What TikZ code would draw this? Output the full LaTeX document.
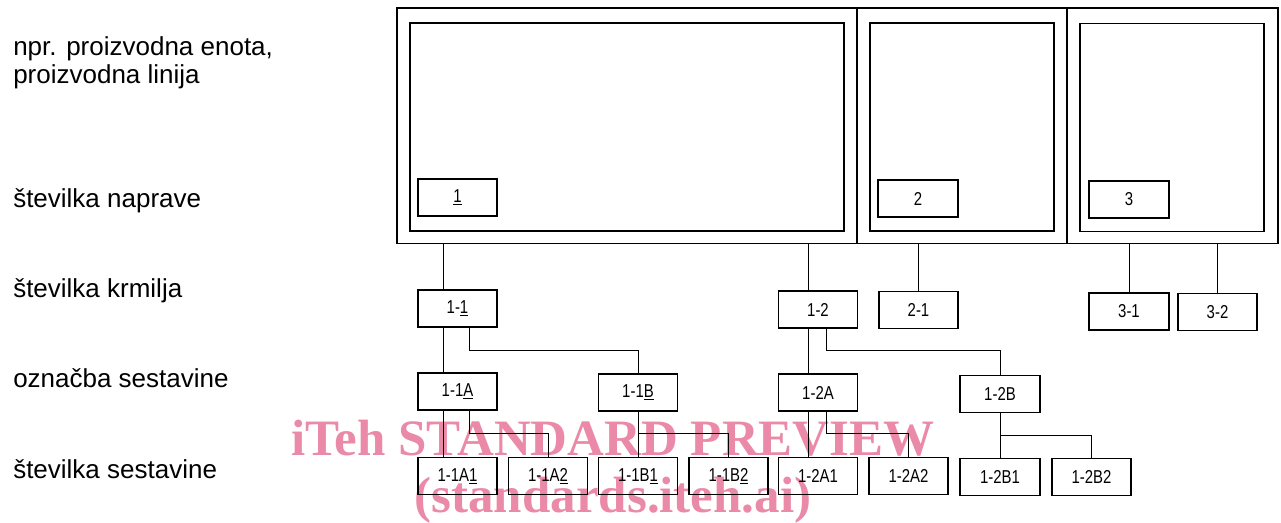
\documentclass[tikz,border=0pt]{standalone}
\usepackage{fontspec}
\setmainfont{Liberation Sans}
\newfontfamily\wmfont{Liberation Serif}
\newfontfamily\boxfont{Liberation Sans}[FakeStretch=0.8]
\usetikzlibrary{calc}
\definecolor{wmpink}{RGB}{234,138,168}
\begin{document}
\begin{tikzpicture}[x=0.75pt,y=-0.75pt,
  frame/.style={draw,line width=0.95pt,inner sep=0pt,minimum height=176.6pt},
  inner/.style={draw,line width=0.8pt,inner sep=0pt,minimum height=156pt},
  box/.style={draw,line width=0.8pt,inner sep=0pt,minimum width=59.25pt,minimum height=27.75pt,font=\boxfont\fontsize{14}{16}\selectfont},
  lab/.style={anchor=base west,inner sep=0pt,font=\fontsize{19.5}{21}\selectfont},
  wm/.style={anchor=base,inner sep=0pt,text=wmpink,font=\wmfont\bfseries\fontsize{38.25}{40}\selectfont},
  conn/.style={line width=0.7pt}]
\useasboundingbox (0,0) rectangle (1281,522);
% watermark (beneath)
\node[wm] (wm1) at (613,455) {iTeh STANDARD PREVIEW};
\node[wm] (wm2) at (613,512) {(standards.iteh.ai)};
% left labels
\node[lab] (l1) at (13,55) {npr. proizvodna enota,};
\node[lab] (l2) at (13,83) {proizvodna linija};
\node[lab] (l3) at (13,207) {številka naprave};
\node[lab] (l4) at (13,297) {številka krmilja};
\node[lab] (l5) at (13,387) {označba sestavine};
\node[lab] (l6) at (13,478) {številka sestavine};
% frames
\node[frame,minimum width=345pt] (f1) at (627,125.75) {};
\node[frame,minimum width=157.5pt] (f2) at (962,125.75) {};
\node[frame,minimum width=158.25pt] (f3) at (1172.5,125.75) {};
\node[inner,minimum width=325.5pt] (i1) at (627,127) {};
\node[inner,minimum width=138pt] (i2) at (962,127) {};
\node[inner,minimum width=138pt] (i3) at (1172,127.5) {};
% devices
\node[box] (d1) at (457.5,197.5) {\underline{1}};
\node[box,minimum width=60pt] (d2) at (918,198.5) {2};
\node[box,minimum width=60pt] (d3) at (1129,199.5) {3};
% controllers
\node[box] (c11) at (457.5,308.5) {1-\underline{1}};
\node[box] (c12) at (818,309.5) {1-2};
\node[box] (c21) at (918.5,310) {2-1};
\node[box,minimum width=60pt] (c31) at (1129,311.5) {3-1};
\node[box] (c32) at (1217.5,312) {3-2};
% components
\node[box] (s11A) at (457.5,391.5) {1-1\underline{A}};
\node[box] (s11B) at (638,392.5) {1-1\underline{B}};
\node[box] (s12A) at (818,392.5) {1-2A};
\node[box,minimum width=60pt] (s12B) at (1000,394) {1-2B};
% component numbers
\node[box] (a1) at (457.5,476) {1-1A\underline{1}};
\node[box] (a2) at (548,476) {1-1A\underline{2}};
\node[box] (b1) at (638,476) {1-1B\underline{1}};
\node[box] (b2) at (728.5,476) {1-1B\underline{2}};
\node[box] (e1) at (818,476) {1-2A1};
\node[box] (e2) at (908.5,476) {1-2A2};
\node[box,minimum width=60pt] (g1) at (1000,477) {1-2B1};
\node[box] (g2) at (1091.5,477) {1-2B2};
% helper coordinates
\coordinate (p11) at ([xshift=19.5pt]c11.south west);
\coordinate (q11) at ([xshift=39pt]c11.south west);
\coordinate (p12) at ([xshift=22.5pt]c12.south west);
\coordinate (q12) at ([xshift=36pt]c12.south west);
\coordinate (m3) at ($(c11.south)!0.5!(s11A.north)$);
\coordinate (m4) at ($(s11A.south)!0.5!(a1.north)$);
\coordinate (m4b) at ($(s12B.south)!0.5!(g1.north)$);
% frame to controllers
\draw[conn] (p11 |- c11.north) -- (p11 |- f1.south);
\draw[conn] (p12 |- c12.north) -- (p12 |- f1.south);
\draw[conn] (c21.north) -- (c21.north |- f2.south);
\draw[conn] (c31.north) -- (c31.north |- f3.south);
\draw[conn] (c32.north) -- (c32.north |- f3.south);
% controllers to components
\draw[conn] (p11) -- (p11 |- s11A.north);
\draw[conn] (q11) -- (q11 |- m3) -| (s11B.north);
\draw[conn] (p12) -- (p12 |- s12A.north);
\draw[conn] (q12) -- (q12 |- m3) -| (s12B.north);
% components to component numbers
\draw[conn] (p11 |- s11A.south) -- (p11 |- a1.north);
\draw[conn] (q11 |- s11A.south) -- (q11 |- m4) -| (a2.north);
\draw[conn] (s11B.south) -- (b1.north);
\draw[conn] (s11B.south |- m4) -| (b2.north);
\draw[conn] (p12 |- s12A.south) -- (p12 |- e1.north);
\draw[conn] (q12 |- s12A.south) -- (q12 |- m4) -| (e2.north);
\draw[conn] (s12B.south) -- (g1.north);
\draw[conn] (s12B.south |- m4b) -| (g2.north);
\end{tikzpicture}
\end{document}
